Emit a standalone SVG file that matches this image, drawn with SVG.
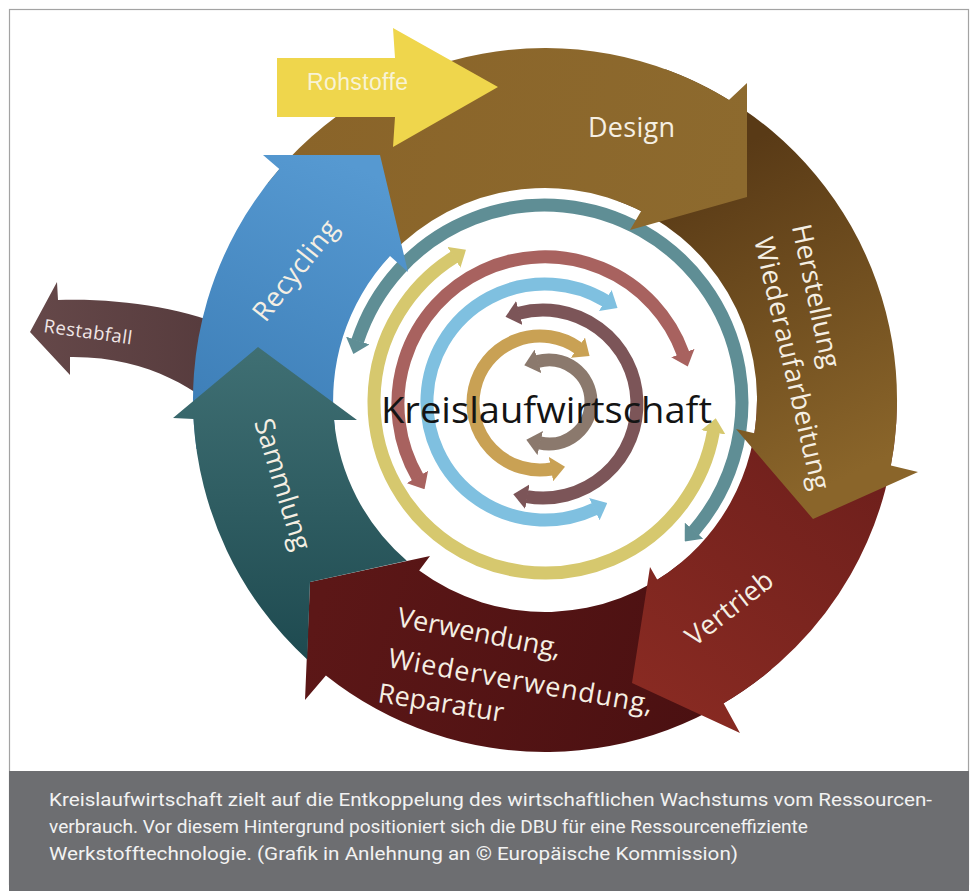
<svg xmlns="http://www.w3.org/2000/svg" width="976" height="891" viewBox="0 0 976 891">
  <style>
    .seg-label { font-family: "Open Sans", "Noto Sans", "DejaVu Sans", sans-serif; font-size: 27px; fill: #f5efe3; }
    .ring { fill: none; stroke-width: 13; stroke-linecap: butt; }
    .caption { font-family: Roboto, "Liberation Sans", sans-serif; font-size: 19px; fill: #f2f2f2; }
  </style>
  <defs>
    <!-- gradients for the ring segments -->
    <linearGradient id="gRecycling" gradientUnits="userSpaceOnUse" x1="340" y1="160" x2="220" y2="440">
      <stop offset="0" stop-color="#5699d1"/>
      <stop offset="1" stop-color="#3c7db6"/>
    </linearGradient>
    <linearGradient id="gDesign" gradientUnits="userSpaceOnUse" x1="300" y1="100" x2="740" y2="200">
      <stop offset="0" stop-color="#8a6429"/>
      <stop offset="1" stop-color="#8d6a2e"/>
    </linearGradient>
    <linearGradient id="gHerst" gradientUnits="userSpaceOnUse" x1="690" y1="170" x2="840" y2="480">
      <stop offset="0" stop-color="#593a16"/>
      <stop offset="1" stop-color="#8a652a"/>
    </linearGradient>
    <linearGradient id="gVertrieb" gradientUnits="userSpaceOnUse" x1="880" y1="420" x2="660" y2="700">
      <stop offset="0" stop-color="#6b1e1b"/>
      <stop offset="1" stop-color="#882a22"/>
    </linearGradient>
    <linearGradient id="gVerwendung" gradientUnits="userSpaceOnUse" x1="320" y1="600" x2="720" y2="720">
      <stop offset="0" stop-color="#5c1717"/>
      <stop offset="1" stop-color="#4a1011"/>
    </linearGradient>
    <linearGradient id="gSammlung" gradientUnits="userSpaceOnUse" x1="0" y1="350" x2="0" y2="660">
      <stop offset="0" stop-color="#3f6f73"/>
      <stop offset="1" stop-color="#1e4a50"/>
    </linearGradient>
    <linearGradient id="gRest" gradientUnits="userSpaceOnUse" x1="30" y1="0" x2="230" y2="0">
      <stop offset="0" stop-color="#654849"/>
      <stop offset="1" stop-color="#553a3c"/>
    </linearGradient>

    <!-- arrowheads of the inner cycle arrows -->
    <marker id="ahGray" viewBox="0 0 11 19" refX="0.5" refY="9.5" markerWidth="1.1" markerHeight="1.9" markerUnits="strokeWidth" orient="auto-start-reverse"><path d="M0 0L11 9.5L0 19Z" fill="#8b796d"/></marker>
    <marker id="ahTan" viewBox="0 0 11 19" refX="0.5" refY="9.5" markerWidth="1.1" markerHeight="1.9" markerUnits="strokeWidth" orient="auto-start-reverse"><path d="M0 0L11 9.5L0 19Z" fill="#c9a154"/></marker>
    <marker id="ahMauve" viewBox="0 0 11 19" refX="0.5" refY="9.5" markerWidth="1.1" markerHeight="1.9" markerUnits="strokeWidth" orient="auto-start-reverse"><path d="M0 0L11 9.5L0 19Z" fill="#7c5558"/></marker>
    <marker id="ahBlue" viewBox="0 0 11 19" refX="0.5" refY="9.5" markerWidth="1.1" markerHeight="1.9" markerUnits="strokeWidth" orient="auto-start-reverse"><path d="M0 0L11 9.5L0 19Z" fill="#7fc0e0"/></marker>
    <marker id="ahRose" viewBox="0 0 11 19" refX="0.5" refY="9.5" markerWidth="1.1" markerHeight="1.9" markerUnits="strokeWidth" orient="auto-start-reverse"><path d="M0 0L11 9.5L0 19Z" fill="#a8625f"/></marker>
    <marker id="ahYellow" viewBox="0 0 11 19" refX="0.5" refY="9.5" markerWidth="1.1" markerHeight="1.9" markerUnits="strokeWidth" orient="auto-start-reverse"><path d="M0 0L11 9.5L0 19Z" fill="#d6c86e"/></marker>
    <marker id="ahTeal" viewBox="0 0 11 19" refX="0.5" refY="9.5" markerWidth="1.1" markerHeight="1.9" markerUnits="strokeWidth" orient="auto-start-reverse"><path d="M0 0L11 9.5L0 19Z" fill="#5f8e95"/></marker>
  </defs>

  <!-- page and frame -->
  <rect x="0" y="0" width="976" height="891" fill="#ffffff"/>
  <rect x="9.5" y="9.5" width="959" height="875" fill="#ffffff" stroke="#a3a3a3" stroke-width="1.2"/>

  <!-- concentric cycle arrows in the centre -->
  <g id="connectors">
    <path class="ring" stroke="#5f8e95" d="M357.6,341.1 A197,197 0 1 1 693.7,531.2" marker-start="url(#ahTeal)" marker-end="url(#ahTeal)"/>
    <path class="ring" stroke="#d6c86e" d="M454.4,257.0 A171,171 0 1 0 713.4,431.7" marker-start="url(#ahYellow)" marker-end="url(#ahYellow)"/>
    <path class="ring" stroke="#a8625f" d="M417.7,477.5 A147,147 0 1 1 683.1,353.7" marker-start="url(#ahRose)" marker-end="url(#ahRose)"/>
    <path class="ring" stroke="#7fc0e0" d="M605.8,300.9 A118,118 0 1 0 594.9,508.9" marker-start="url(#ahBlue)" marker-end="url(#ahBlue)"/>
    <path class="ring" stroke="#7c5558" d="M518.7,313.2 A94,94 0 1 1 526.7,496.6" marker-start="url(#ahMauve)" marker-end="url(#ahMauve)"/>
    <path class="ring" stroke="#c9a154" d="M578.4,348.1 A67,67 0 1 0 551.6,469.0" marker-start="url(#ahTan)" marker-end="url(#ahTan)"/>
    <path class="ring" stroke="#8b796d" d="M537.4,361.6 A42,42 0 1 1 539.6,442.9" marker-start="url(#ahGray)" marker-end="url(#ahGray)"/>
  </g>

  <g id="kreislaufwirtschaft">
    <text x="381" y="423" font-family="'Open Sans', 'Noto Sans', sans-serif" font-size="37" fill="#141414" textLength="331" lengthAdjust="spacingAndGlyphs">Kreislaufwirtschaft</text>
  </g>

  <!-- waste arrow leaving the cycle -->
  <g id="restabfall">
    <path fill="url(#gRest)" d="M30,332 L57,282 L58,300 C120,298 185,308 235,330 L228,418 C200,392 150,356 70,357 L70,375 Z"/>
    <text transform="translate(43,332) rotate(8)" font-family="'Open Sans', 'Noto Sans', sans-serif" font-size="18.5" fill="#f1e7e7" textLength="89">Restabfall</text>
  </g>

  <!-- ring segments, bottom to top -->
  <g id="verwendung">
    <path fill="url(#gVerwendung)" d="M771.3,669.6 A352,352 0 0 1 325.9,675.5 L305,700 L310,582 L430,556 L419.2,570.6 A212,212 0 0 0 681.3,562.4 Z"/>
    <text class="seg-label" transform="translate(396,626) rotate(11)" textLength="166">Verwendung,</text>
    <text class="seg-label" transform="translate(387,667) rotate(10)" textLength="268">Wiederverwendung,</text>
    <text class="seg-label" transform="translate(377,702) rotate(9)" textLength="127">Reparatur</text>
  </g>

  <g id="vertrieb">
    <path fill="url(#gVertrieb)" d="M897,400 A352,352 0 0 1 723.6,703.3 L740,733 L632,683 L650,567 L657.3,579.8 A212,212 0 0 0 757,400 Z"/>
    <text class="seg-label" text-anchor="middle" transform="translate(735,615.5) rotate(-38)" textLength="103">Vertrieb</text>
  </g>

  <g id="herstellung">
    <path fill="url(#gHerst)" d="M665.4,69.2 A352,352 0 0 1 890.9,465.4 L918,472 L813,519 L736,429 L754.4,433.2 A212,212 0 0 0 617.5,200.8 Z"/>
    <text class="seg-label" text-anchor="middle" transform="translate(807,298) rotate(78)" textLength="146">Herstellung</text>
    <text class="seg-label" text-anchor="middle" transform="translate(783,365.5) rotate(77)" textLength="258">Wiederaufarbeitung</text>
  </g>

  <g id="design">
    <path fill="url(#gDesign)" d="M267.6,183.3 A352,352 0 0 1 728.9,99.9 L747,83 L747,197 L630,230 L641.2,211.1 A212,212 0 0 0 377.9,269.5 Z"/>
    <text class="seg-label" x="588" y="137" textLength="87">Design</text>
  </g>

  <g id="recycling">
    <path fill="url(#gRecycling)" d="M196.4,449 A352,352 0 0 1 279.3,169.1 L263,155 L380,155 L408,272 L390,256 A212,212 0 0 0 335.1,429.5 Z"/>
    <text class="seg-label" text-anchor="middle" transform="translate(302.5,276) rotate(-52)" textLength="120">Recycling</text>
  </g>

  <g id="sammlung">
    <path fill="url(#gSammlung)" d="M173,418 L258,347 L357,420 L334,420 A212,212 0 0 0 406.8,560.7 L310,582 L307.2,659.5 A352,352 0 0 1 193.5,419 Z"/>
    <text class="seg-label" text-anchor="middle" transform="translate(274,487) rotate(73)" textLength="136">Sammlung</text>
  </g>

  <!-- raw material input -->
  <g id="rohstoffe">
    <path fill="#efd64c" d="M277,58 L395,58 L393,28 L498,87 L393,147 L395,117 L277,117 Z"/>
    <text x="307" y="90" font-family="'Liberation Sans', Arial, sans-serif" font-size="23" fill="#f8f3d6" textLength="101">Rohstoffe</text>
  </g>

  <!-- caption bar -->
  <g id="caption">
    <rect x="9" y="771" width="960" height="120" fill="#6d6e71"/>
    <text class="caption" x="49" y="806" textLength="883" lengthAdjust="spacingAndGlyphs">Kreislaufwirtschaft zielt auf die Entkoppelung des wirtschaftlichen Wachstums vom Ressourcen-</text>
    <text class="caption" x="49" y="833" textLength="759" lengthAdjust="spacingAndGlyphs">verbrauch. Vor diesem Hintergrund positioniert sich die DBU für eine Ressourceneffiziente</text>
    <text class="caption" x="49" y="860" textLength="689" lengthAdjust="spacingAndGlyphs">Werkstofftechnologie. (Grafik in Anlehnung an © Europäische Kommission)</text>
  </g>
</svg>
